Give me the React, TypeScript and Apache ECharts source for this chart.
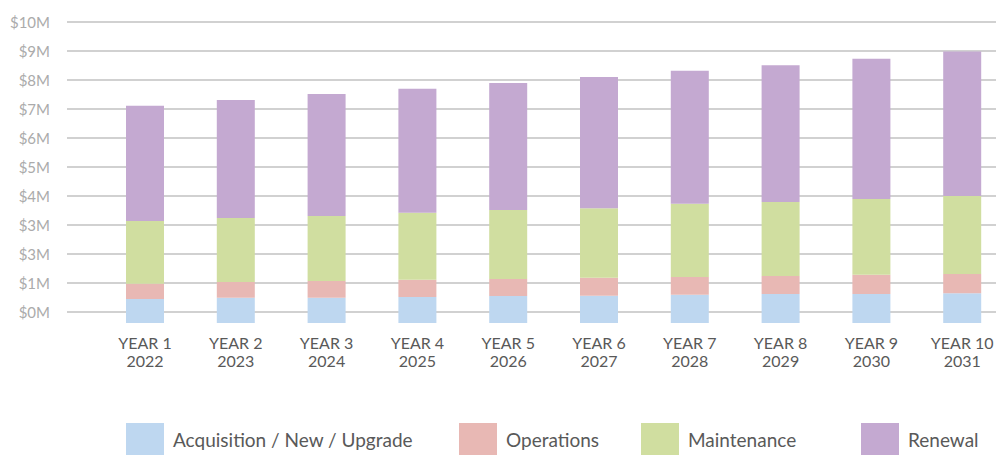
import React, { useEffect, useRef } from "react";
import * as echarts from "echarts";

const categories = [
  "YEAR 1\n2022", "YEAR 2\n2023", "YEAR 3\n2024", "YEAR 4\n2025", "YEAR 5\n2026",
  "YEAR 6\n2027", "YEAR 7\n2028", "YEAR 8\n2029", "YEAR 9\n2030", "YEAR 10\n2031",
];
const acquisition = [0.83, 0.87, 0.87, 0.9, 0.93, 0.94, 0.97, 1.0, 1.0, 1.03];
const operations = [0.52, 0.54, 0.58, 0.59, 0.59, 0.62, 0.62, 0.62, 0.66, 0.66];
const maintenance = [2.17, 2.21, 2.24, 2.31, 2.38, 2.4, 2.52, 2.55, 2.62, 2.69];
const renewal = [3.97, 4.07, 4.21, 4.28, 4.38, 4.52, 4.59, 4.72, 4.83, 4.98];
const yTickLabels = ["$0M", "$1M", "$3M", "$3M", "$4M", "$5M", "$6M", "$7M", "$8M", "$9M", "$10M"];

const seriesNames = ["Acquisition / New / Upgrade", "Operations", "Maintenance", "Renewal"];
const seriesData = [acquisition, operations, maintenance, renewal];
const colors = ["#BED7F0", "#E8B8B4", "#D0DEA0", "#C4A9D1"];
const legendLeft = [126, 459, 641, 861];

const FONT = "Lato, 'Open Sans', sans-serif";

export default function App() {
  const ref = useRef<HTMLDivElement>(null);
  useEffect(() => {
    if (!ref.current) return;
    const chart = echarts.init(ref.current, undefined, { renderer: "svg" });
    const option: any = {
      animation: false,
      backgroundColor: "#ffffff",
      textStyle: { fontFamily: FONT },
      grid: [
        { left: 99.6, top: 22, width: 908, height: 301, containLabel: false, outerBoundsMode: "none" },
        { left: 67, top: 22, right: 0, height: 290, containLabel: false, outerBoundsMode: "none" },
      ],
      xAxis: [
        {
          type: "category",
          gridIndex: 0,
          data: categories,
          axisLine: { show: false },
          axisTick: { show: false },
          axisLabel: {
            interval: 0,
            margin: 10,
            fontSize: 16,
            lineHeight: 18,
            color: "#595959",
            fontFamily: FONT,
          },
        },
        { type: "value", gridIndex: 1, show: false, min: 0, max: 1 },
      ],
      yAxis: [
        {
          type: "value",
          gridIndex: 0,
          min: 0,
          max: 301 / 29,
          show: false,
          splitLine: { show: false },
        },
        {
          type: "value",
          gridIndex: 1,
          min: 0,
          max: 10,
          interval: 1,
          axisLine: { show: false },
          axisTick: { show: false },
          splitLine: { show: true, lineStyle: { color: "#c2c2c2", width: 1.5 } },
          axisLabel: {
            margin: 17,
            fontSize: 15,
            color: "#ababab",
            fontFamily: FONT,
            formatter: (v: number) => yTickLabels[Math.round(v)] ?? "",
          },
        },
      ],
      legend: seriesNames.map((n, i) => ({
        data: [n],
        left: legendLeft[i],
        top: 423,
        padding: 0,
        itemWidth: 38,
        itemHeight: 32,
        icon: "rect",
        selectedMode: false,
        textStyle: {
          fontSize: 19,
          color: "#595959",
          fontFamily: FONT,
          padding: [11, 0, 0, 4],
        },
      })),
      series: seriesNames.map((n, i) => ({
        name: n,
        type: "bar",
        stack: "total",
        xAxisIndex: 0,
        yAxisIndex: 0,
        barWidth: 38,
        data: seriesData[i],
        itemStyle: { color: colors[i] },
        emphasis: { disabled: true },
      })),
    };
    chart.setOption(option);
    return () => chart.dispose();
  }, []);
  return <div ref={ref} style={{ width: 996, height: 455, position: "absolute", left: 0, top: 0 }} />;
}
